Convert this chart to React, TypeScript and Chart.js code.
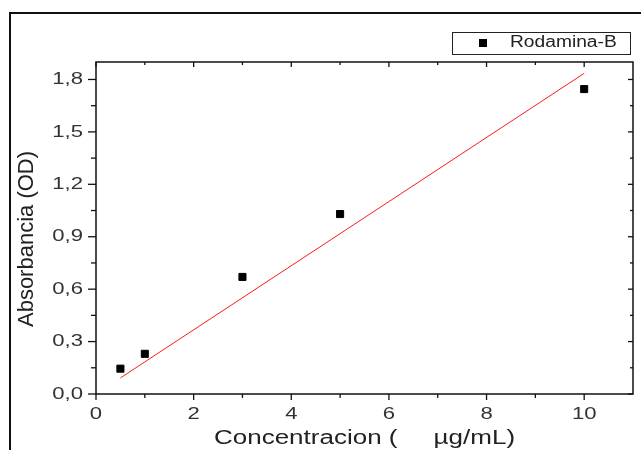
import { useEffect, useRef } from "react";
import { Chart, registerables } from "chart.js";

Chart.register(...registerables);

// Measured points
const concentration = [0.5, 1, 3, 5, 10];
const absorbance = [0.145, 0.23, 0.67, 1.03, 1.745];

// Calibration fit line (through origin), drawn between its end points
const fitX = [0.5, 10];
const fitY = [0.092, 1.835];

// Axis ticks
const xMajorTicks = [0, 2, 4, 6, 8, 10];
const xMinorTicks = [1, 3, 5, 7, 9];
const yMajorTicks = [0, 0.3, 0.6, 0.9, 1.2, 1.5, 1.8];
const yMinorTicks = [0.15, 0.45, 0.75, 1.05, 1.35, 1.65];

const seriesLabel = "Rodamina-B";
const xTitle = "Concentracion (     \u00b5g/mL)";
const yTitle = "Absorbancia (OD)";

const FONT = "'Liberation Sans', Arial, Helvetica, sans-serif";

type TextOpts = {
  size: number;
  sx?: number;
  align?: CanvasTextAlign;
  baseline?: CanvasTextBaseline;
  rotate?: boolean;
  color?: string;
};

function drawText(ctx: CanvasRenderingContext2D, text: string, x: number, y: number, o: TextOpts) {
  ctx.save();
  ctx.translate(x, y);
  if (o.rotate) ctx.rotate(-Math.PI / 2);
  ctx.scale(o.sx ?? 1, 1);
  ctx.font = `${o.size}px ${FONT}`;
  ctx.textAlign = o.align ?? "left";
  ctx.textBaseline = o.baseline ?? "middle";
  ctx.fillStyle = o.color ?? "#222";
  ctx.fillText(text, 0, 0);
  ctx.restore();
}

const fmtX = (v: number) => String(v);
const fmtY = (v: number) => v.toFixed(1).replace(".", ",");

const framePlugin = {
  id: "originFrame",
  beforeDraw(chart: Chart) {
    const ctx = chart.ctx;
    ctx.save();
    ctx.fillStyle = "#ffffff";
    ctx.fillRect(0, 0, chart.width, chart.height);
    ctx.restore();
  },
  afterDraw(chart: Chart) {
    const ctx = chart.ctx;
    const { left, right, top, bottom } = chart.chartArea;
    const xs = chart.scales.x;
    const ys = chart.scales.y;

    ctx.save();
    ctx.strokeStyle = "#111";
    ctx.lineWidth = 1.5;
    ctx.strokeRect(left, top, right - left, bottom - top);

    // ticks: outward on bottom/left, inward on top/right
    ctx.lineWidth = 1.3;
    const vTick = (px: number, y0: number, y1: number) => {
      ctx.beginPath();
      ctx.moveTo(px, y0);
      ctx.lineTo(px, y1);
      ctx.stroke();
    };
    const hTick = (py: number, x0: number, x1: number) => {
      ctx.beginPath();
      ctx.moveTo(x0, py);
      ctx.lineTo(x1, py);
      ctx.stroke();
    };
    xMajorTicks.forEach((v) => {
      const px = xs.getPixelForValue(v);
      vTick(px, bottom, bottom + 6);
      vTick(px, top, top + 5);
    });
    xMinorTicks.forEach((v) => {
      const px = xs.getPixelForValue(v);
      vTick(px, bottom, bottom + 4);
      vTick(px, top, top + 3);
    });
    yMajorTicks.forEach((v) => {
      const py = ys.getPixelForValue(v);
      hTick(py, left - 8, left);
      hTick(py, right - 5, right);
    });
    yMinorTicks.forEach((v) => {
      const py = ys.getPixelForValue(v);
      hTick(py, left - 5, left);
      hTick(py, right - 3, right);
    });
    ctx.restore();

    // tick labels
    xMajorTicks.forEach((v) => {
      drawText(ctx, fmtX(v), xs.getPixelForValue(v), bottom + 20, {
        size: 17, sx: 1.3, align: "center", color: "#333",
      });
    });
    yMajorTicks.forEach((v) => {
      drawText(ctx, fmtY(v), left - 13, ys.getPixelForValue(v), {
        size: 17, sx: 1.3, align: "right", color: "#333",
      });
    });

    // axis titles
    drawText(ctx, xTitle, (left + right) / 2, bottom + 44, {
      size: 20, sx: 1.3, align: "center", color: "#222",
    });
    drawText(ctx, yTitle, 27, (top + bottom) / 2 + 11, {
      size: 22, sx: 1.0, align: "center", rotate: true, color: "#222",
    });

    // legend
    ctx.save();
    ctx.strokeStyle = "#222";
    ctx.lineWidth = 1;
    ctx.strokeRect(452.5, 32.5, 178, 22);
    ctx.fillStyle = "#000";
    ctx.fillRect(479, 39, 8, 8);
    ctx.restore();
    drawText(ctx, seriesLabel, 510, 43, { size: 16, sx: 1.2, align: "left", color: "#222" });

    // outer frame
    ctx.save();
    ctx.strokeStyle = "#111";
    ctx.lineWidth = 2;
    ctx.beginPath();
    ctx.moveTo(10, chart.height);
    ctx.lineTo(10, 13);
    ctx.lineTo(chart.width, 13);
    ctx.stroke();
    ctx.restore();
  },
};

export default function App() {
  const canvasRef = useRef<HTMLCanvasElement | null>(null);

  useEffect(() => {
    document.body.style.margin = "0";
    const canvas = canvasRef.current;
    if (!canvas) return;

    const chart = new Chart(canvas, {
      type: "scatter",
      data: {
        datasets: [
          {
            type: "scatter",
            label: seriesLabel,
            data: concentration.map((x, i) => ({ x, y: absorbance[i] })),
            backgroundColor: "#000",
            borderColor: "#000",
            borderWidth: 1,
            pointStyle: "rect",
            pointRadius: 5,
            order: 0,
          },
          {
            type: "line",
            label: "fit",
            data: fitX.map((x, i) => ({ x, y: fitY[i] })),
            borderColor: "#ff1a1a",
            borderWidth: 1,
            pointRadius: 0,
            fill: false,
            tension: 0,
            order: 1,
          },
        ],
      },
      options: {
        responsive: false,
        animation: false,
        events: [],
        layout: { padding: { left: 0, top: 62, right: 8, bottom: 0 } },
        plugins: {
          legend: { display: false },
          tooltip: { enabled: false },
        },
        scales: {
          x: {
            type: "linear",
            min: 0,
            max: 11,
            grid: { display: false },
            border: { display: false },
            ticks: { display: false },
            afterFit: (s: any) => {
              s.height = 56;
            },
          },
          y: {
            type: "linear",
            min: 0,
            max: 1.9,
            grid: { display: false },
            border: { display: false },
            ticks: { display: false },
            afterFit: (s: any) => {
              s.width = 96;
            },
          },
        },
      },
      plugins: [framePlugin],
    });

    return () => chart.destroy();
  }, []);

  return (
    <div style={{ position: "absolute", left: 0, top: 0, width: 641, height: 450, background: "#fff" }}>
      <canvas ref={canvasRef} width={641} height={450} style={{ display: "block" }} />
    </div>
  );
}
